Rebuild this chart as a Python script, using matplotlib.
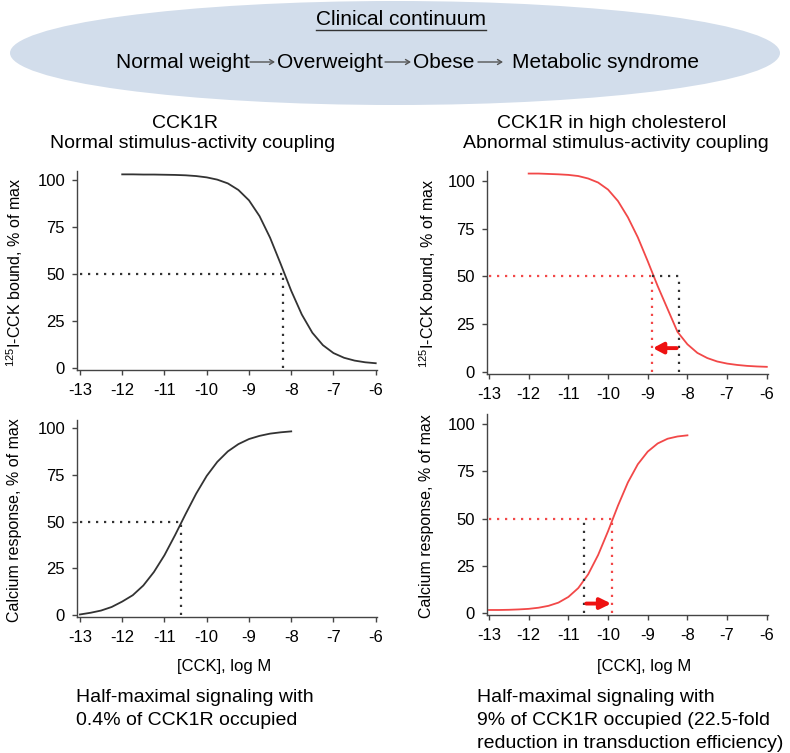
import matplotlib.pyplot as plt
from matplotlib.lines import Line2D
from matplotlib.patches import Ellipse

plt.rcParams["font.family"] = ["Liberation Sans", "DejaVu Sans"]
plt.rcParams["mathtext.fontset"] = "custom"
plt.rcParams["mathtext.rm"] = "Liberation Sans"
plt.rcParams["mathtext.it"] = "Liberation Sans:italic"
plt.rcParams["mathtext.bf"] = "Liberation Sans:bold"
plt.rcParams["mathtext.default"] = "regular"
plt.rcParams["axes.unicode_minus"] = False

# binding curves, [CCK] log M
log_cck_bind = [-12.0, -11.75, -11.5, -11.25, -11.0, -10.75, -10.5, -10.25, -10.0,
                -9.75, -9.5, -9.25, -9.0, -8.75, -8.5, -8.25, -8.0, -7.75, -7.5,
                -7.25, -7.0, -6.75, -6.5, -6.25, -6.0]
bound_normal = [103.0, 103.0, 102.9, 102.9, 102.8, 102.7, 102.5, 102.1, 101.4,
                100.2, 98.2, 94.7, 89.2, 80.8, 69.3, 55.4, 41.1, 28.5, 18.8,
                12.2, 8.0, 5.5, 4.0, 3.1, 2.6]
bound_chol = [103.9, 103.9, 103.7, 103.5, 103.2, 102.6, 101.3, 99.2, 95.5,
              89.5, 81.0, 70.5, 58.0, 45.0, 33.0, 21.0, 14.5, 10.0, 7.3,
              5.5, 4.4, 3.7, 3.2, 2.9, 2.7]

# calcium response curves
log_cck_signal = [-13.0, -12.75, -12.5, -12.25, -12.0, -11.75, -11.5, -11.25, -11.0,
                  -10.75, -10.5, -10.25, -10.0, -9.75, -9.5, -9.25, -9.0, -8.75,
                  -8.5, -8.25, -8.0]
calcium_normal = [0.3, 1.2, 2.4, 4.3, 7.2, 10.6, 15.8, 23.0, 32.0, 42.7, 54.0,
                  64.9, 74.4, 81.9, 87.5, 91.4, 94.1, 95.8, 97.0, 97.7, 98.2]
calcium_chol = [1.6, 1.6, 1.7, 1.9, 2.2, 2.8, 3.8, 5.5, 8.5, 13.2, 20.5, 30.7,
                43.3, 56.8, 69.1, 78.7, 85.4, 89.7, 92.2, 93.4, 94.0]

# half-maximal points
ic50_normal = -8.2
ic50_chol = -8.9
ec50_normal = -10.6
ec50_chol = -9.9
half = 50

x_ticks = [-13, -12, -11, -10, -9, -8, -7, -6]
y_ticks = [0, 25, 50, 75, 100]

stages = ["Normal weight", "Overweight", "Obese", "Metabolic syndrome"]

W, H = 790, 753
BLACK = "#333333"
RED = "#f24848"
DOT = (0, (1, 2.6))

fig = plt.figure(figsize=(W / 100, H / 100), dpi=100)


def fx(px):
    return px / W


def fy(py):
    return 1 - py / H


def make_axes(left, right, top, bottom, xlim, ylim):
    ax = fig.add_axes([fx(left), fy(bottom), (right - left) / W, (bottom - top) / H])
    ax.set_xlim(*xlim)
    ax.set_ylim(*ylim)
    for side in ("top", "right"):
        ax.spines[side].set_visible(False)
    for side in ("left", "bottom"):
        ax.spines[side].set_color("#444444")
        ax.spines[side].set_linewidth(1.0)
    ax.set_xticks(x_ticks)
    ax.set_yticks(y_ticks)
    ax.tick_params(direction="out", length=3.6, width=1.0, color="#444444", labelsize=12)
    ax.tick_params(axis="x", pad=6)
    ax.tick_params(axis="y", pad=5)
    return ax


# clinical continuum banner
fig.add_artist(Ellipse((fx(395), fy(53)), 770 / W, 104 / H, transform=fig.transFigure,
                       facecolor="#d2ddeb", edgecolor="none"))
clin = fig.text(fx(401), fy(25), "Clinical continuum", ha="center", va="baseline", fontsize=15)

stage_left = [116, 277, 413, 512]
arrow_span = [(250, 275), (385, 411), (478, 503)]
for name, left in zip(stages, stage_left):
    fig.text(fx(left), fy(68), name, ha="left", va="baseline", fontsize=15)
for x0, x1 in arrow_span:
    fig.add_artist(plt.Annotation("", xy=(fx(x1), fy(62)), xytext=(fx(x0), fy(62)),
                                  xycoords="figure fraction", textcoords="figure fraction",
                                  arrowprops=dict(arrowstyle="->,head_length=0.3,head_width=0.18",
                                                  color="#555555", lw=1.0,
                                                  shrinkA=0, shrinkB=0)))

# panel titles
fig.text(fx(185), fy(128), "CCK1R", ha="center", va="baseline", fontsize=14)
fig.text(fx(193), fy(148), "Normal stimulus-activity coupling", ha="center", va="baseline", fontsize=14)
fig.text(fx(612), fy(128), "CCK1R in high cholesterol", ha="center", va="baseline", fontsize=14)
fig.text(fx(616), fy(148), "Abnormal stimulus-activity coupling", ha="center", va="baseline", fontsize=14)

ax_tl = make_axes(77, 377, 170.6, 370, (-13.07, -5.97), (-1, 105))
ax_tr = make_axes(487, 768, 170.5, 373.9, (-13.05, -5.97), (-1, 105.5))
ax_bl = make_axes(77, 377, 419.6, 616.9, (-13.07, -5.97), (-1, 104.5))
ax_br = make_axes(487, 768, 413.6, 614.9, (-13.05, -5.97), (-1, 105.5))

# normal binding
ax_tl.plot(log_cck_bind, bound_normal, color=BLACK, lw=1.3)
ax_tl.plot([-13, ic50_normal], [half, half], color=BLACK, lw=1.6, ls=DOT)
ax_tl.plot([ic50_normal, ic50_normal], [0, half], color=BLACK, lw=1.6, ls=DOT)

# high cholesterol binding
ax_tr.plot(log_cck_bind, bound_chol, color=RED, lw=1.3)
ax_tr.plot([-13, ic50_chol], [half, half], color=RED, lw=1.6, ls=DOT)
ax_tr.plot([ic50_chol, ic50_chol], [0, half], color=RED, lw=1.6, ls=DOT)
ax_tr.plot([ic50_chol, ic50_normal], [half, half], color=BLACK, lw=1.6, ls=DOT)
ax_tr.plot([ic50_normal, ic50_normal], [0, half], color=BLACK, lw=1.6, ls=DOT)
ax_tr.annotate("", xy=(ic50_chol + 0.03, 12.5), xytext=(ic50_normal - 0.07, 12.5),
               arrowprops=dict(arrowstyle="-|>,head_length=0.6,head_width=0.32",
                               color="#ee1111", lw=2.8, shrinkA=0, shrinkB=0))

# normal signaling
ax_bl.plot(log_cck_signal, calcium_normal, color=BLACK, lw=1.3)
ax_bl.plot([-13, ec50_normal], [half, half], color=BLACK, lw=1.6, ls=DOT)
ax_bl.plot([ec50_normal, ec50_normal], [0, half], color=BLACK, lw=1.6, ls=DOT)

# high cholesterol signaling
ax_br.plot(log_cck_signal, calcium_chol, color=RED, lw=1.3)
ax_br.plot([-13, ec50_chol], [half, half], color=RED, lw=1.6, ls=DOT)
ax_br.plot([ec50_chol, ec50_chol], [0, half], color=RED, lw=1.6, ls=DOT)
ax_br.plot([ec50_normal, ec50_normal], [0, half], color=BLACK, lw=1.6, ls=DOT)
ax_br.annotate("", xy=(ec50_chol - 0.02, 5), xytext=(ec50_normal + 0.05, 5),
               arrowprops=dict(arrowstyle="-|>,head_length=0.65,head_width=0.32",
                               color="#ee1111", lw=2.8, shrinkA=0, shrinkB=0))

# axis labels
bound_label = "$^{125}$I-CCK bound, % of max"
calcium_label = "Calcium response, % of max"
fig.text(fx(15), fy(272), bound_label, rotation=90, ha="center", va="center", fontsize=11.5)
fig.text(fx(428), fy(273), bound_label, rotation=90, ha="center", va="center", fontsize=11.5)
fig.text(fx(15), fy(520), calcium_label, rotation=90, ha="center", va="center", fontsize=11.5)
fig.text(fx(427), fy(516), calcium_label, rotation=90, ha="center", va="center", fontsize=11.5)
fig.text(fx(224), fy(671), "[CCK], log M", ha="center", va="baseline", fontsize=12)
fig.text(fx(644), fy(671), "[CCK], log M", ha="center", va="baseline", fontsize=12)

# notes under the panels
left_note = ["Half-maximal signaling with", "0.4% of CCK1R occupied"]
right_note = ["Half-maximal signaling with", "9% of CCK1R occupied (22.5-fold",
              "reduction in transduction efficiency)"]
for i, line in enumerate(left_note):
    fig.text(fx(76), fy(702 + 23 * i), line, ha="left", va="baseline", fontsize=14)
for i, line in enumerate(right_note):
    fig.text(fx(477), fy(702 + 23 * i), line, ha="left", va="baseline", fontsize=14)

# underline of the banner title
fig.canvas.draw()
bb = clin.get_window_extent().transformed(fig.transFigure.inverted())
fig.add_artist(Line2D([bb.x0, bb.x1], [fy(30), fy(30)], transform=fig.transFigure,
                      color="#333333", lw=1.0))

fig.savefig("out.png", dpi=100)
